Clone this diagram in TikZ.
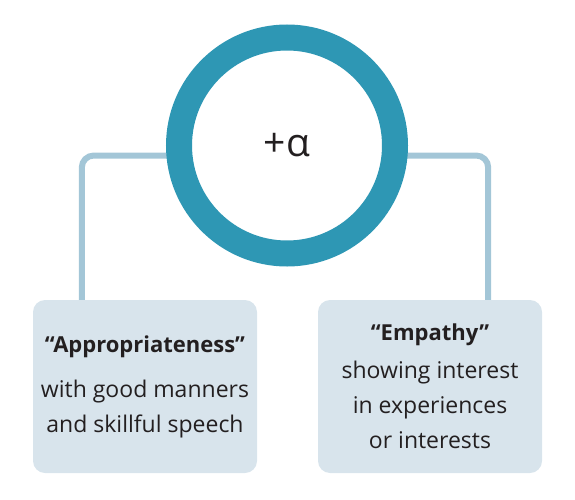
\documentclass[tikz,border=0pt]{standalone}
\usepackage{fontspec}
\setmainfont{Open Sans}
\usetikzlibrary{positioning,backgrounds}
\definecolor{ringteal}{HTML}{2E97B4}
\definecolor{linkblue}{HTML}{A3C6D7}
\definecolor{boxfill}{HTML}{D8E4EC}
\definecolor{ink}{HTML}{231F20}
\tikzset{
  card/.style={fill=boxfill, rounded corners=12pt, minimum width=224pt, minimum height=173pt,
    align=center, font=\fontsize{23}{35}\selectfont, text=ink},
  link/.style={draw=linkblue, line width=6pt, rounded corners=12pt},
}
\newcommand{\cardtitle}[1]{{\fontsize{22}{35}\selectfont\bfseries #1}}
\begin{document}
\begin{tikzpicture}[x=1pt,y=1pt]
	\useasboundingbox (0,0) rectangle (575,499);
	\node[card] (appro) at (145,112.5) {\cardtitle{“Appropriateness”}\\[10pt]with good manners\\and skillful speech};
	\node[card] (empathy) at (430,112.5) {\cardtitle{“Empathy”}\\[3pt]showing interest\\in experiences\\or interests};
	\node[circle, draw=ringteal, line width=26pt, fill=white, minimum size=216pt, inner sep=0pt,
		font=\fontsize{39}{39}\selectfont, text=ink] (ring) at (287,353.5) {+α};
	\begin{scope}[on background layer]
		\draw[link] ([yshift=-10pt]ring.center) -| ([xshift=49pt]appro.north west);
		\draw[link] ([yshift=-10pt]ring.center) -| ([xshift=-54pt]empathy.north east);
	\end{scope}
\end{tikzpicture}
\end{document}
